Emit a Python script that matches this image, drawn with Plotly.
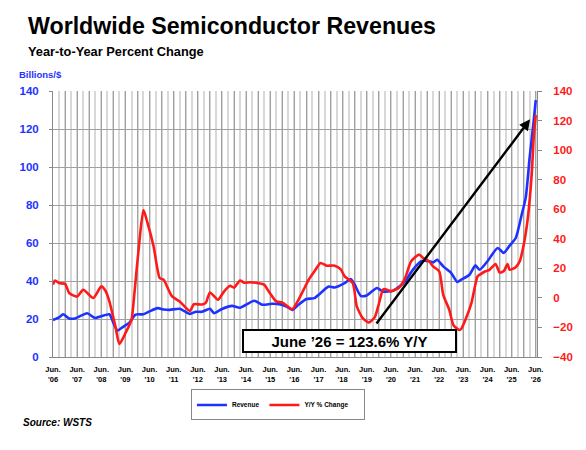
import plotly.graph_objects as go

# Revenue, billions of US$ (3-month average)
rev_dates = ['2006-06', '2006-09', '2006-11', '2007-02', '2007-05', '2007-08', '2007-11', '2008-03',
             '2008-06', '2008-10', '2008-12', '2009-02', '2009-05', '2009-08', '2009-11', '2010-03',
             '2010-06', '2010-10', '2011-01', '2011-04', '2011-09', '2012-02', '2012-05', '2012-08',
             '2012-12', '2013-02', '2013-06', '2013-11', '2014-03', '2014-10', '2015-02', '2015-07',
             '2015-11', '2016-02', '2016-05', '2016-08', '2016-12', '2017-04', '2017-07', '2017-11',
             '2018-02', '2018-07', '2018-10', '2018-12', '2019-03', '2019-06', '2019-11', '2020-02',
             '2020-07', '2020-10', '2021-01', '2021-05', '2021-09', '2022-01', '2022-03', '2022-05',
             '2022-08', '2022-12', '2023-03', '2023-05', '2023-09', '2023-12', '2024-02', '2024-06',
             '2024-11', '2025-02', '2025-05', '2025-08', '2025-09', '2025-11', '2026-01', '2026-03',
             '2026-05', '2026-06']
revenue = [19.5, 20.8, 22.5, 20.3, 20.3, 21.8, 23.0, 20.5,
           21.5, 22.5, 18.0, 13.9, 16.0, 18.1, 22.3, 22.5,
           24.0, 25.7, 25.0, 24.8, 25.4, 22.7, 23.8, 23.8,
           25.4, 23.1, 25.3, 26.9, 25.9, 29.6, 27.5, 28.0,
           27.7, 26.6, 24.8, 27.5, 30.5, 31.0, 33.6, 37.1,
           36.6, 38.9, 41.0, 38.0, 32.2, 32.4, 36.3, 34.5,
           34.8, 37.0, 39.8, 46.0, 50.4, 50.4, 49.8, 51.2,
           47.7, 44.2, 39.5, 40.7, 43.3, 48.2, 45.9, 50.4,
           57.4, 54.8, 58.6, 62.5, 66.0, 75.0, 84.0, 105.0,
           124.3, 135.2]

# Year-to-year percent change
yoy_dates = ['2006-06', '2006-07', '2006-09', '2006-12', '2007-02', '2007-06', '2007-09', '2008-02',
             '2008-06', '2008-08', '2008-10', '2009-01', '2009-03', '2009-06', '2009-09', '2009-10',
             '2010-01', '2010-03', '2010-05', '2010-08', '2010-11', '2011-01', '2011-05', '2011-09',
             '2012-02', '2012-04', '2012-08', '2012-10', '2012-12', '2013-04', '2013-07', '2013-10',
             '2013-12', '2014-03', '2014-05', '2014-08', '2014-12', '2015-03', '2015-05', '2015-09',
             '2015-12', '2016-05', '2016-08', '2016-11', '2017-01', '2017-04', '2017-07', '2017-10',
             '2018-02', '2018-05', '2018-07', '2018-11', '2019-01', '2019-04', '2019-07', '2019-10',
             '2019-12', '2020-02', '2020-03', '2020-06', '2020-10', '2021-01', '2021-04', '2021-08',
             '2021-10', '2022-01', '2022-03', '2022-06', '2022-08', '2022-11', '2023-01', '2023-04',
             '2023-05', '2023-08', '2023-10', '2024-01', '2024-02', '2024-05', '2024-07', '2024-10',
             '2024-12', '2025-02', '2025-04', '2025-05', '2025-08', '2025-10', '2025-12', '2026-02',
             '2026-04', '2026-05', '2026-06']
yoy = [9.0, 11.8, 10.0, 9.5, 3.3, 0.9, 5.5, -0.1,
       7.8, 5.0, -2.3, -19.4, -31.2, -23.9, -14.9, -3.5,
       39.5, 59.4, 50.8, 35.0, 13.5, 12.2, 1.4, -2.5,
       -8.9, -4.3, -4.5, -3.2, 3.7, -1.3, 4.3, 8.2,
       6.9, 11.8, 10.3, 10.6, 10.0, 9.0, 5.0, -2.4,
       -3.1, -7.6, -1.3, 6.7, 12.1, 18.0, 23.6, 21.8,
       21.8, 19.5, 14.6, 10.0, -5.8, -13.7, -16.7, -13.0,
       -4.0, 5.6, 6.0, 4.6, 6.9, 13.4, 24.7, 29.3,
       27.0, 24.7, 21.3, 18.0, 2.1, -8.1, -18.3, -21.7,
       -21.0, -11.5, -3.6, 14.5, 15.6, 18.0, 19.0, 22.9,
       17.2, 18.0, 22.9, 19.0, 20.8, 24.7, 36.0, 54.0,
       83.6, 108.5, 123.6]

years = list(range(2006, 2027))
tick_vals = []
tick_text = []
for y in years:
    tick_vals.append(f'{y}-06-01')
    tick_text.append(f"Jun.<br>'{str(y)[2:]}")
    if y < 2026:
        tick_vals.append(f'{y}-12-01')
        tick_text.append('')

BLUE = '#1e32ff'
RED = '#ff1a1a'
FONT = 'Liberation Sans, Arial, sans-serif'

fig = go.Figure()
fig.add_trace(go.Scatter(x=rev_dates, y=revenue, name='Revenue', mode='lines',
                         line=dict(color=BLUE, width=2.6, shape='spline', smoothing=0.6)))
fig.add_trace(go.Scatter(x=yoy_dates, y=yoy, name='Y/Y % Change      ', mode='lines', yaxis='y2',
                         line=dict(color=RED, width=2.6, shape='spline', smoothing=0.6)))

# page body has an 8px margin, so the figure is a bit smaller than the window
fig.update_layout(
    width=578, height=442, autosize=False,
    margin=dict(l=41, r=49, t=83, b=93),
    paper_bgcolor='white', plot_bgcolor='white',
    font=dict(family=FONT, color='black'),
    showlegend=True,
    legend=dict(orientation='h', x=0.285, xanchor='left', y=-0.122, yanchor='top',
                bordercolor='#888888', borderwidth=1,
                font=dict(size=6.5, family=FONT, weight='bold'),
                tracegroupgap=0),
    xaxis=dict(type='date', range=['2006-06-01', '2026-06-20'],
               tickmode='array', tickvals=tick_vals, ticktext=tick_text,
               tickfont=dict(size=7.5, family=FONT, weight='bold', color='black'),
               showgrid=True, gridcolor='#a0a0a0', gridwidth=1,
               showline=True, linecolor='#888888', linewidth=1,
               ticks='', ticklabelstandoff=5,
               minor=dict(tickmode='linear', tick0='2006-06-01', dtick='M3',
                          showgrid=True, gridcolor='#d8d8d8', gridwidth=2, ticks='')),
    yaxis=dict(range=[0, 140], dtick=20, showgrid=True, gridcolor='#a0a0a0', gridwidth=1,
               zeroline=False, showline=True, linecolor='#888888', linewidth=1,
               ticks='outside', ticklen=3, tickcolor='#888888', ticklabelstandoff=8,
               tickfont=dict(size=11.5, family=FONT, weight='bold', color=BLUE)),
    yaxis2=dict(range=[-40, 140], dtick=20, overlaying='y', side='right', showgrid=False,
                zeroline=False, showline=True, linecolor='#888888', linewidth=1,
                ticks='outside', ticklen=4, tickcolor='#888888', ticklabelstandoff=9,
                tickfont=dict(size=11.5, family=FONT, weight='bold', color=RED)),
)

fig.add_annotation(text='<b>Worldwide Semiconductor Revenues</b>', xref='paper', yref='paper',
                   x=-0.0567, y=1.2425, xanchor='left', yanchor='middle', showarrow=False,
                   font=dict(size=23.2, family=FONT, color='black'))
fig.add_annotation(text='<b>Year-to-Year Percent Change</b>', xref='paper', yref='paper',
                   x=-0.0567, y=1.148, xanchor='left', yanchor='middle', showarrow=False,
                   font=dict(size=12.8, family=FONT, color='black'))
fig.add_annotation(text='<b>Billions/$</b>', xref='paper', yref='paper',
                   x=-0.074, y=1.062, xanchor='left', yanchor='middle', showarrow=False,
                   font=dict(size=9.5, family=FONT, color=BLUE))
fig.add_annotation(text='<b><i>Source: WSTS</i></b>', xref='paper', yref='paper',
                   x=-0.067, y=-0.246, xanchor='left', yanchor='middle', showarrow=False,
                   font=dict(size=10, family=FONT, color='black'))

# arrow pointing at the latest reading
fig.add_annotation(text='', xref='paper', yref='paper', x=0.9857, y=0.8936,
                   ax=-154.7, ay=205.7, axref='pixel', ayref='pixel', showarrow=True,
                   arrowhead=2, arrowsize=0.9, arrowwidth=2.4, arrowcolor='black', standoff=0)

fig.add_annotation(text='<b>June ’26 = 123.6% Y/Y</b>', xref='paper', yref='paper',
                   x=0.613, y=0.0617, xanchor='center', yanchor='middle', showarrow=False,
                   width=211, height=20, borderpad=0, borderwidth=2, bordercolor='black',
                   bgcolor='white', font=dict(size=15, family=FONT, color='black'))

fig.write_html('out.html')
